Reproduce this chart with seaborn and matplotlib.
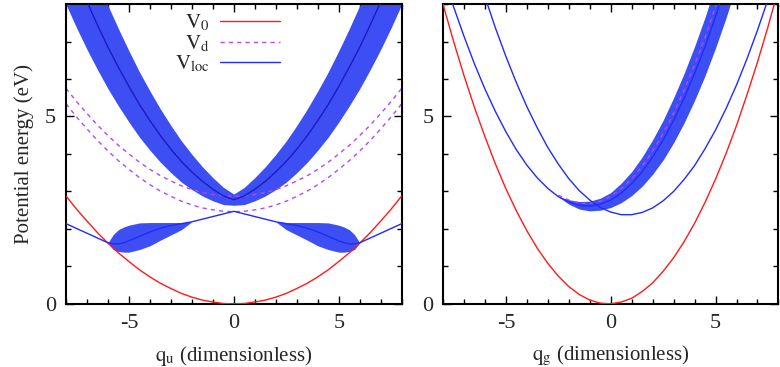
import matplotlib
matplotlib.use("Agg")
import matplotlib.pyplot as plt
import numpy as np
import seaborn as sns
from matplotlib.lines import Line2D
from matplotlib.ticker import MultipleLocator

# ---------------- q_u panel (left) ----------------
qu = [-8, -7.5, -7, -6.5, -6, -5.5, -5, -4.5, -4, -3.5, -3, -2.5, -2, -1.5, -1, -0.5, 0,
      0.5, 1, 1.5, 2, 2.5, 3, 3.5, 4, 4.5, 5, 5.5, 6, 6.5, 7, 7.5, 8]
v0_u = [2.88, 2.53, 2.21, 1.90, 1.62, 1.36, 1.13, 0.91, 0.72, 0.55, 0.41, 0.28, 0.18, 0.10, 0.05, 0.01, 0.00,
        0.01, 0.05, 0.10, 0.18, 0.28, 0.41, 0.55, 0.72, 0.91, 1.13, 1.36, 1.62, 1.90, 2.21, 2.53, 2.88]
vd1_u = [5.34, 4.99, 4.67, 4.36, 4.08, 3.82, 3.59, 3.37, 3.18, 3.01, 2.87, 2.74, 2.64, 2.56, 2.51, 2.47, 2.46,
         2.47, 2.51, 2.56, 2.64, 2.74, 2.87, 3.01, 3.18, 3.37, 3.59, 3.82, 4.08, 4.36, 4.67, 4.99, 5.34]
vd2_u = [5.75, 5.40, 5.08, 4.77, 4.49, 4.23, 4.00, 3.78, 3.59, 3.42, 3.28, 3.15, 3.05, 2.97, 2.92, 2.88, 2.87,
         2.88, 2.92, 2.97, 3.05, 3.15, 3.28, 3.42, 3.59, 3.78, 4.00, 4.23, 4.49, 4.77, 5.08, 5.40, 5.75]

# upper V_loc branch with its spread
vloc_up_u = [9.42, 8.72, 8.06, 7.44, 6.85, 6.31, 5.80, 5.32, 4.89, 4.49, 4.13, 3.80, 3.52, 3.27, 3.06, 2.88, 2.78,
             2.88, 3.06, 3.27, 3.52, 3.80, 4.13, 4.49, 4.89, 5.32, 5.80, 6.31, 6.85, 7.44, 8.06, 8.72, 9.42]
spread_up_u = [1.43, 1.35, 1.27, 1.19, 1.11, 1.03, 0.95, 0.87, 0.79, 0.71, 0.63, 0.55, 0.47, 0.39, 0.31, 0.23, 0.15,
               0.23, 0.31, 0.39, 0.47, 0.55, 0.63, 0.71, 0.79, 0.87, 0.95, 1.03, 1.11, 1.19, 1.27, 1.35, 1.43]

# lower V_loc branch
qu_lo = [-8, -6, -5.75, -5.5, -5.25, -5, -4.5, -4, -3.5, -3, -2.5, -2, -1, 0,
         1, 2, 2.5, 3, 3.5, 4, 4.5, 5, 5.25, 5.5, 5.75, 6, 8]
vloc_lo_u = [2.14, 1.63, 1.60, 1.60, 1.63, 1.68, 1.80, 1.92, 2.02, 2.09, 2.14, 2.19, 2.33, 2.47,
             2.33, 2.19, 2.14, 2.09, 2.02, 1.92, 1.80, 1.68, 1.63, 1.60, 1.60, 1.63, 2.14]
qu_band_l = [-6, -5.75, -5.5, -5.25, -5, -4.5, -4, -3.5, -3, -2.5, -2]
band_l_top = [1.63, 1.85, 1.98, 2.05, 2.10, 2.16, 2.17, 2.17, 2.17, 2.17, 2.19]
band_l_bot = [1.63, 1.45, 1.40, 1.38, 1.38, 1.45, 1.55, 1.70, 1.84, 1.98, 2.19]
qu_band_r = [2, 2.5, 3, 3.5, 4, 4.5, 5, 5.25, 5.5, 5.75, 6]
band_r_top = [2.19, 2.17, 2.17, 2.17, 2.17, 2.16, 2.10, 2.05, 1.98, 1.85, 1.63]
band_r_bot = [2.19, 1.98, 1.84, 1.70, 1.55, 1.45, 1.38, 1.38, 1.40, 1.45, 1.63]

# ---------------- q_g panel (right) ----------------
qg = [-8, -7.5, -7, -6.5, -6, -5.5, -5, -4.5, -4, -3.5, -3, -2.5, -2, -1.5, -1, -0.5, 0,
      0.5, 1, 1.5, 2, 2.5, 3, 3.5, 4, 4.5, 5, 5.5, 6, 6.5, 7, 7.5, 8]
v0_g = [7.99, 7.01, 6.09, 5.24, 4.46, 3.73, 3.07, 2.48, 1.95, 1.48, 1.08, 0.74, 0.46, 0.25, 0.10, 0.02, 0.00,
        0.05, 0.15, 0.33, 0.56, 0.87, 1.23, 1.66, 2.15, 2.71, 3.33, 4.01, 4.76, 5.58, 6.45, 7.39, 8.40]

qg_b = [-6.5, -6, -5.5, -5, -4.5, -4, -3.5, -3, -2.5, -2, -1.5, -1, -0.5, 0,
        0.5, 1, 1.5, 2, 2.5, 3, 3.5, 4, 4.5, 5, 5.5, 6, 6.5, 7, 7.5]
vloc_b_g = [9.08, 8.19, 7.36, 6.60, 5.90, 5.26, 4.69, 4.17, 3.73, 3.34, 3.02, 2.77, 2.57, 2.45,
            2.38, 2.38, 2.44, 2.56, 2.75, 3.00, 3.32, 3.69, 4.14, 4.64, 5.21, 5.84, 6.54, 7.30, 8.12]

qg_a = [-8, -7.5, -7, -6.5, -6, -5.5, -5, -4.5, -4, -3.5, -3, -2.5, -2, -1.5, -1, -0.5, 0,
        0.5, 1, 1.5, 2, 2.5, 3, 3.5, 4, 4.5, 5, 5.5, 6]
vloc_a_g = [8.80, 7.93, 7.14, 6.40, 5.73, 5.13, 4.59, 4.11, 3.70, 3.36, 3.08, 2.86, 2.72, 2.63, 2.61, 2.66, 2.77,
            2.96, 3.21, 3.53, 3.92, 4.37, 4.90, 5.49, 6.15, 6.87, 7.67, 8.53, 9.47]

qg_band = [-2.5, -2, -1.5, -1, -0.5, 0, 0.5, 1, 1.5, 2, 2.5, 3, 3.5, 4, 4.5, 5, 5.5, 6]
vloc_band_g = [2.86, 2.72, 2.63, 2.61, 2.66, 2.77, 2.96, 3.21, 3.53, 3.92, 4.37, 4.90, 5.49, 6.15, 6.87, 7.67,
               8.53, 9.47]
spread_g = [0.0, 0.06, 0.10, 0.13, 0.16, 0.20, 0.26, 0.32, 0.39, 0.46, 0.53, 0.60, 0.66, 0.72, 0.78, 0.84,
            0.90, 0.96]
vd_g = [2.90, 2.77, 2.69, 2.68, 2.74, 2.87, 3.07, 3.34, 3.67, 4.08, 4.54, 5.09, 5.70, 6.38, 7.11, 7.93,
        8.81, 9.77]

RED = "#ff1a1a"
BLUE = "#1f2bff"
DARKBLUE = "#1a1acc"
BAND = "#3d4ff2"
VIOLET = "#b048ff"
DASH = (0, (3, 3))

sns.set_theme(style="ticks")
plt.rcParams["font.family"] = ["Liberation Serif", "DejaVu Serif"]
plt.rcParams["mathtext.fontset"] = "stix"
plt.rcParams["axes.unicode_minus"] = False

fig = plt.figure(figsize=(7.8, 3.67), dpi=100)
ax1 = fig.add_axes([0.0846, 0.172, 0.4304, 0.817])
ax2 = fig.add_axes([0.568, 0.172, 0.4300, 0.817])


def line(ax, x, y, color, ls="-", z=3, lw=1.0):
    sns.lineplot(x=x, y=y, ax=ax, color=color, lw=lw, linestyle=ls,
                 estimator=None, sort=False, zorder=z)


# left panel
up_c = np.array(vloc_up_u)
up_s = np.array(spread_up_u)
ax1.fill_between(qu, up_c - up_s, up_c + up_s, color=BAND, lw=0, zorder=1)
ax1.fill_between(qu_band_l, band_l_bot, band_l_top, color=BAND, lw=0, zorder=1)
ax1.fill_between(qu_band_r, band_r_bot, band_r_top, color=BAND, lw=0, zorder=1)
line(ax1, qu, vd1_u, VIOLET, DASH, z=2)
line(ax1, qu, vd2_u, VIOLET, DASH, z=2)
line(ax1, qu, v0_u, RED)
line(ax1, qu, vloc_up_u, DARKBLUE)
line(ax1, qu_lo, vloc_lo_u, BLUE)

# right panel
g_c = np.array(vloc_band_g)
g_s = np.array(spread_g)
ax2.fill_between(qg_band, g_c - g_s, g_c + g_s, color=BAND, lw=0, zorder=1)
line(ax2, qg_band, vd_g, VIOLET, DASH, z=2)
line(ax2, qg, v0_g, RED)
line(ax2, qg_b, vloc_b_g, BLUE)
line(ax2, qg_a, vloc_a_g, BLUE)

for ax in (ax1, ax2):
    ax.set_xlim(-8, 8)
    ax.set_ylim(0, 8)
    ax.xaxis.set_major_locator(MultipleLocator(5))
    ax.xaxis.set_minor_locator(MultipleLocator(1))
    ax.yaxis.set_major_locator(MultipleLocator(5))
    ax.yaxis.set_minor_locator(MultipleLocator(1))
    ax.tick_params(which="both", direction="in", top=True, right=True,
                   labelsize=16, color="black", width=1.0, pad=7)
    ax.tick_params(which="major", length=6)
    ax.tick_params(which="minor", length=3.5)
    for s in ax.spines.values():
        s.set_linewidth(1.5)
        s.set_color("black")
    ax.set_ylabel("")
    ax.set_xlabel("")

ax1.set_ylabel("Potential energy (eV)", fontsize=15, labelpad=8)
ax1.set_xlabel(r"$\mathrm{q}_\mathrm{u}$ (dimensionless)", fontsize=15, labelpad=8)
ax2.set_xlabel(r"$\mathrm{q}_\mathrm{g}$ (dimensionless)", fontsize=15, labelpad=8)

handles = [Line2D([], [], color=RED, lw=1.0),
           Line2D([], [], color=VIOLET, lw=1.0, linestyle=DASH),
           Line2D([], [], color=BLUE, lw=1.0)]
labels = [r"$\mathrm{V}_0$", r"$\mathrm{V}_\mathrm{d}$", r"$\mathrm{V}_\mathrm{loc}$"]
ax1.legend(handles, labels, loc="upper left", bbox_to_anchor=(0.28, 1.02),
           frameon=False, markerfirst=False, handlelength=2.9, fontsize=15,
           labelspacing=0.0, handletextpad=0.5, borderpad=0.2)

fig.savefig("out.png", dpi=100)
